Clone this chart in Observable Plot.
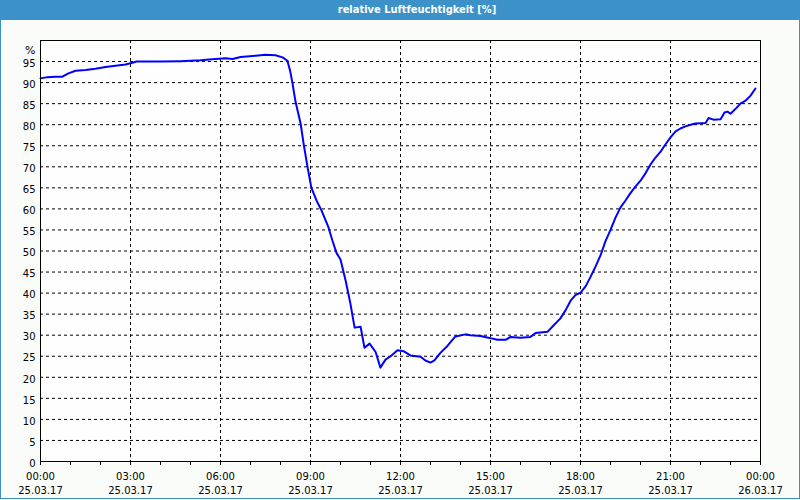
<!DOCTYPE html>
<html><head><meta charset="utf-8">
<script src="https://cdn.jsdelivr.net/npm/d3@7"></script>
<script src="https://cdn.jsdelivr.net/npm/@observablehq/plot@0.6"></script>
<style>
html,body{margin:0;padding:0;}
body{width:800px;height:500px;background:#fafcfa;position:relative;overflow:hidden;font-family:"DejaVu Sans",sans-serif;}
#title{height:20px;background:#3c92c8;color:#fff;font:bold 11px "DejaVu Sans Condensed","DejaVu Sans",sans-serif;line-height:20px;position:relative;}
#title span{position:absolute;left:417px;transform:translateX(-50%);white-space:nowrap;}
#frame{position:absolute;left:0;top:20px;width:798px;height:478px;border:1px solid #3c92c8;border-top:none;}
#chart{position:absolute;left:0;top:20px;}
</style></head>
<body>
<div id="title"><span>relative Luftfeuchtigkeit [%]</span></div>
<div id="frame"></div>
<div id="chart"></div>
<script>
const title = "relative Luftfeuchtigkeit [%]";
const startDate = "2017-03-25T00:00:00Z";
const hours = [0,0.23,0.5,0.73,0.93,1.17,1.5,1.83,2.17,2.5,2.83,3.07,3.2,4.0,4.67,5.33,5.83,6.17,6.4,6.67,7.17,7.5,7.83,8.07,8.23,8.33,8.4,8.5,8.67,8.77,8.9,9.03,9.2,9.37,9.6,9.73,9.87,10.0,10.17,10.33,10.47,10.67,10.8,10.97,11.17,11.33,11.5,11.67,11.9,12.1,12.33,12.67,12.83,13.0,13.13,13.33,13.57,13.83,14.17,14.33,14.67,15.0,15.23,15.5,15.67,16.0,16.33,16.5,16.9,17.1,17.33,17.5,17.67,17.83,18.0,18.17,18.33,18.5,18.67,18.83,19.0,19.17,19.33,19.5,19.67,19.83,20.0,20.17,20.33,20.5,20.67,20.83,21.0,21.17,21.33,21.5,21.67,21.83,22.17,22.27,22.43,22.67,22.8,22.9,23.0,23.2,23.33,23.5,23.67,23.83];
const humidity = [91.0,91.3,91.4,91.4,92.2,92.8,93.0,93.3,93.7,94.0,94.3,94.7,95.0,95.0,95.1,95.3,95.6,95.8,95.6,96.1,96.4,96.6,96.5,96.0,95.2,92.5,89.8,85.5,80.3,75.5,70.0,65.0,62.0,59.6,55.6,52.5,49.5,48.0,43.0,37.5,31.8,32.0,27.0,28.0,26.0,22.3,24.2,25.0,26.4,26.2,25.2,24.9,24.0,23.5,24.0,25.8,27.5,29.7,30.2,30.0,29.8,29.3,28.9,28.9,29.6,29.4,29.6,30.5,30.8,32.3,34.0,35.9,38.2,39.5,40.1,41.6,43.8,46.3,49.0,52.3,55.0,58.0,60.3,62.0,63.8,65.3,66.7,68.5,70.5,72.2,73.6,75.3,77.0,78.4,79.1,79.6,80.0,80.3,80.4,81.6,81.2,81.3,82.9,83.1,82.6,84.0,85.0,85.7,86.9,88.6];
const yTicks = [0,5,10,15,20,25,30,35,40,45,50,55,60,65,70,75,80,85,90,95];
const yGrid = [5,10,15,20,25,30,35,40,45,50,55,60,65,70,75,80,85,90,95];
const xTickHours = [0,3,6,9,12,15,18,21,24];
const xGridHours = [3,6,9,12,15,18,21];
const xMinorHours = d3.range(0,25);
const yUnit = "%";

const t0 = new Date(startDate).getTime();
const toDate = h => new Date(t0 + h*3600e3);
const data = hours.map((h,i) => ({t: toDate(h), v: humidity[i]}));
const fmtTime = d3.utcFormat("%H:%M");
const fmtDate = d3.utcFormat("%d.%m.%y");

const chart = Plot.plot({
  width: 800, height: 480,
  marginTop: 20, marginBottom: 39, marginLeft: 40, marginRight: 40,
  style: {fontFamily: "DejaVu Sans, sans-serif", fontSize: "10px", background: "transparent", color: "#000"},
  x: {type: "utc", domain: [toDate(0), toDate(24)], axis: null},
  y: {domain: [0,100], axis: null},
  marks: [
    Plot.frame({fill: "#fdfefd"}),
    Plot.gridY(yGrid, {stroke: "#000", strokeOpacity: 1, strokeDasharray: "3,3"}),
    Plot.gridX(xGridHours.map(toDate), {stroke: "#000", strokeOpacity: 1, strokeDasharray: "3,3"}),
    Plot.axisX(xMinorHours.map(toDate), {tickSize: 4, tickFormat: () => "", stroke: "#000", label: null}),
    Plot.axisX(xTickHours.map(toDate), {tickSize: 0, tickPadding: 11, tickFormat: fmtTime, fill: "#000", label: null}),
    Plot.axisX(xTickHours.map(toDate), {tickSize: 0, tickPadding: 25, tickFormat: fmtDate, fill: "#000", label: null}),
    Plot.axisY(yTicks, {tickSize: 0, tickPadding: 5, dy: 2, fill: "#000", label: null}),
    Plot.text([yUnit], {frameAnchor: "top-left", textAnchor: "end", dx: -5, dy: 6, fill: "#000", fontSize: 11}),
    Plot.line(data, {x: "t", y: "v", stroke: "#0000ff", strokeWidth: 2}),
    Plot.frame({stroke: "#000"})
  ]
});
document.getElementById("chart").append(chart);
</script>
</body></html>
